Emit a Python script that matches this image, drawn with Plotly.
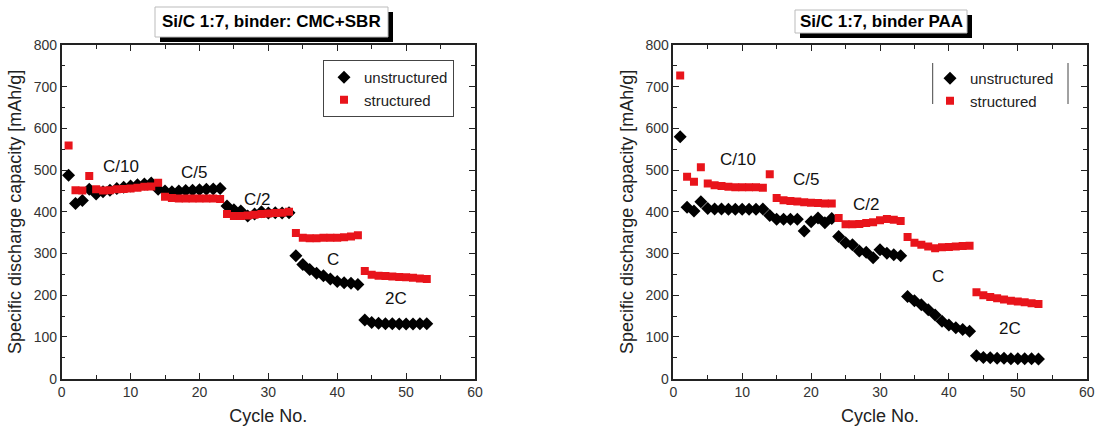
import plotly.graph_objects as go

W, H = 1096, 428

cycles = list(range(1, 54))

left_unstructured = [488, 420, 427, 454, 443, 448, 452, 456, 459, 462, 465, 467, 469, 454,
                     450, 448, 450, 451, 452, 453, 454, 455, 456,
                     414, 405, 402, 390, 395, 400, 397, 398, 397, 398,
                     295, 274, 262, 253, 247, 239, 233, 230, 229, 226,
                     141, 135, 133, 132, 132, 131, 131, 131, 132, 132]
left_structured = [559, 452, 451, 486, 454, 451, 452, 454, 455, 456, 458, 460, 461, 470,
                   436, 433, 432, 432, 432, 432, 432, 432, 431,
                   395, 390, 390, 391, 393, 395, 396, 397, 398, 400,
                   349, 338, 337, 337, 338, 338, 338, 339, 341, 344,
                   258, 249, 247, 246, 245, 244, 243, 242, 240, 239]

right_unstructured = [580, 411, 402, 424, 408, 407, 407, 406, 406, 406, 406, 406, 407, 391,
                      382, 382, 382, 382, 354, 376, 385, 374, 384,
                      341, 326, 321, 306, 303, 290, 309, 301, 297, 295,
                      197, 187, 177, 165, 153, 138, 129, 122, 118, 114,
                      55, 51, 50, 49, 49, 48, 48, 48, 48, 47]
right_structured = [727, 484, 472, 507, 468, 464, 462, 460, 459, 459, 459, 459, 458, 490,
                    433, 428, 426, 425, 423, 422, 421, 420, 420,
                    385, 370, 370, 371, 373, 375, 380, 383, 381, 378,
                    340, 326, 321, 317, 313, 315, 316, 317, 318, 319,
                    207, 200, 196, 193, 190, 187, 185, 183, 181, 179]

rate_labels = ["C/10", "C/5", "C/2", "C", "2C"]
left_label_x = [8.6, 19.2, 28.3, 39.4, 48.6]
left_label_y = [508, 494, 430, 285, 193]
right_label_x = [9.4, 19.2, 28.0, 38.4, 48.9]
right_label_y = [526, 477, 417, 245, 121]

titles = ["Si/C 1:7, binder: CMC+SBR", "Si/C 1:7, binder PAA"]
series_names = ["unstructured", "structured"]

FONT = "Liberation Sans, Arial, sans-serif"
RED = "#e8141b"


def px(x):
    return x / W


def py(y):
    return 1 - y / H


fig = go.Figure()

panels = [
    ("x", "y", left_unstructured, left_structured, "legend"),
    ("x2", "y2", right_unstructured, right_structured, "legend2"),
]
for xa, ya, unst, st, leg in panels:
    fig.add_trace(go.Scatter(x=cycles, y=unst, mode="markers", name=series_names[0],
                             xaxis=xa, yaxis=ya, legend=leg,
                             marker=dict(symbol="diamond", size=10, color="black")))
    fig.add_trace(go.Scatter(x=cycles, y=st, mode="markers", name=series_names[1],
                             xaxis=xa, yaxis=ya, legend=leg,
                             marker=dict(symbol="square", size=8, color=RED)))

axis_common = dict(
    showline=True, linecolor="#222", linewidth=1.5, mirror="ticks",
    ticks="inside", ticklen=6, tickwidth=1.2, tickcolor="#222",
    showgrid=False, zeroline=False, automargin=False,
    tickfont=dict(family=FONT, size=14, color="#333"),
)
xcommon = dict(axis_common, range=[0, 60], dtick=10, tick0=0,
               minor=dict(dtick=5, ticks="inside", ticklen=4, tickcolor="#222"),
               title=dict(text="Cycle No.", font=dict(family=FONT, size=18, color="#222"), standoff=10))
ycommon = dict(axis_common, range=[0, 800], dtick=100, tick0=0,
               minor=dict(dtick=50, ticks="inside", ticklen=4, tickcolor="#222"),
               title=dict(text="Specific discharge capacity [mAh/g]",
                          font=dict(family=FONT, size=18, color="#222"), standoff=7))

ydom = [py(378.7), py(45)]
fig.update_layout(
    width=W, height=H,
    margin=dict(l=0, r=0, t=0, b=0),
    paper_bgcolor="white", plot_bgcolor="white",
    font=dict(family=FONT, color="#222"),
    xaxis=dict(xcommon, domain=[px(61.7), px(475)], anchor="y"),
    yaxis=dict(ycommon, domain=ydom, anchor="x"),
    xaxis2=dict(xcommon, domain=[px(673.3), px(1086.7)], anchor="y2"),
    yaxis2=dict(ycommon, domain=ydom, anchor="x2"),
    legend=dict(x=px(323), y=py(60), xanchor="left", yanchor="top",
                bordercolor="#444", borderwidth=1, bgcolor="white",
                font=dict(family=FONT, size=15, color="#222"),
                itemwidth=30, tracegroupgap=0),
    legend2=dict(x=px(930), y=py(62), xanchor="left", yanchor="top",
                 borderwidth=0, bgcolor="rgba(0,0,0,0)",
                 font=dict(family=FONT, size=15, color="#222"),
                 itemwidth=30, tracegroupgap=0),
    showlegend=True,
)

shapes = []
for xl in (932.7, 1068):
    shapes.append(dict(type="line", xref="paper", yref="paper",
                       x0=px(xl), x1=px(xl), y0=py(63), y1=py(104),
                       line=dict(color="#444", width=1)))
boxes = [(155, 7, 388, 37), (795, 10, 967, 33)]
for (x0, y0, x1, y1) in boxes:
    shapes.append(dict(type="rect", xref="paper", yref="paper",
                       x0=px(x0 + 5), x1=px(x1 + 5), y0=py(y1 + 5), y1=py(y0 + 5),
                       fillcolor="black", line=dict(width=0), layer="above"))
    shapes.append(dict(type="rect", xref="paper", yref="paper",
                       x0=px(x0), x1=px(x1), y0=py(y1), y1=py(y0),
                       fillcolor="white", line=dict(color="#bbb", width=1), layer="above"))
fig.update_layout(shapes=shapes)

annotations = []
for (x0, y0, x1, y1), t in zip(boxes, titles):
    annotations.append(dict(xref="paper", yref="paper", x=px((x0 + x1) / 2), y=py((y0 + y1) / 2),
                            text="<b>" + t + "</b>", showarrow=False,
                            font=dict(family=FONT, size=17, color="black"),
                            xanchor="center", yanchor="middle"))
for lab, lx, ly in zip(rate_labels, left_label_x, left_label_y):
    annotations.append(dict(xref="x", yref="y", x=lx, y=ly, text=lab, showarrow=False,
                            font=dict(family=FONT, size=17, color="#111")))
for lab, lx, ly in zip(rate_labels, right_label_x, right_label_y):
    annotations.append(dict(xref="x2", yref="y2", x=lx, y=ly, text=lab, showarrow=False,
                            font=dict(family=FONT, size=17, color="#111")))
fig.update_layout(annotations=annotations)

fig.write_html("out.html", config={"displayModeBar": False},
               post_script="document.body.style.margin='0';document.body.style.overflow='hidden';")
